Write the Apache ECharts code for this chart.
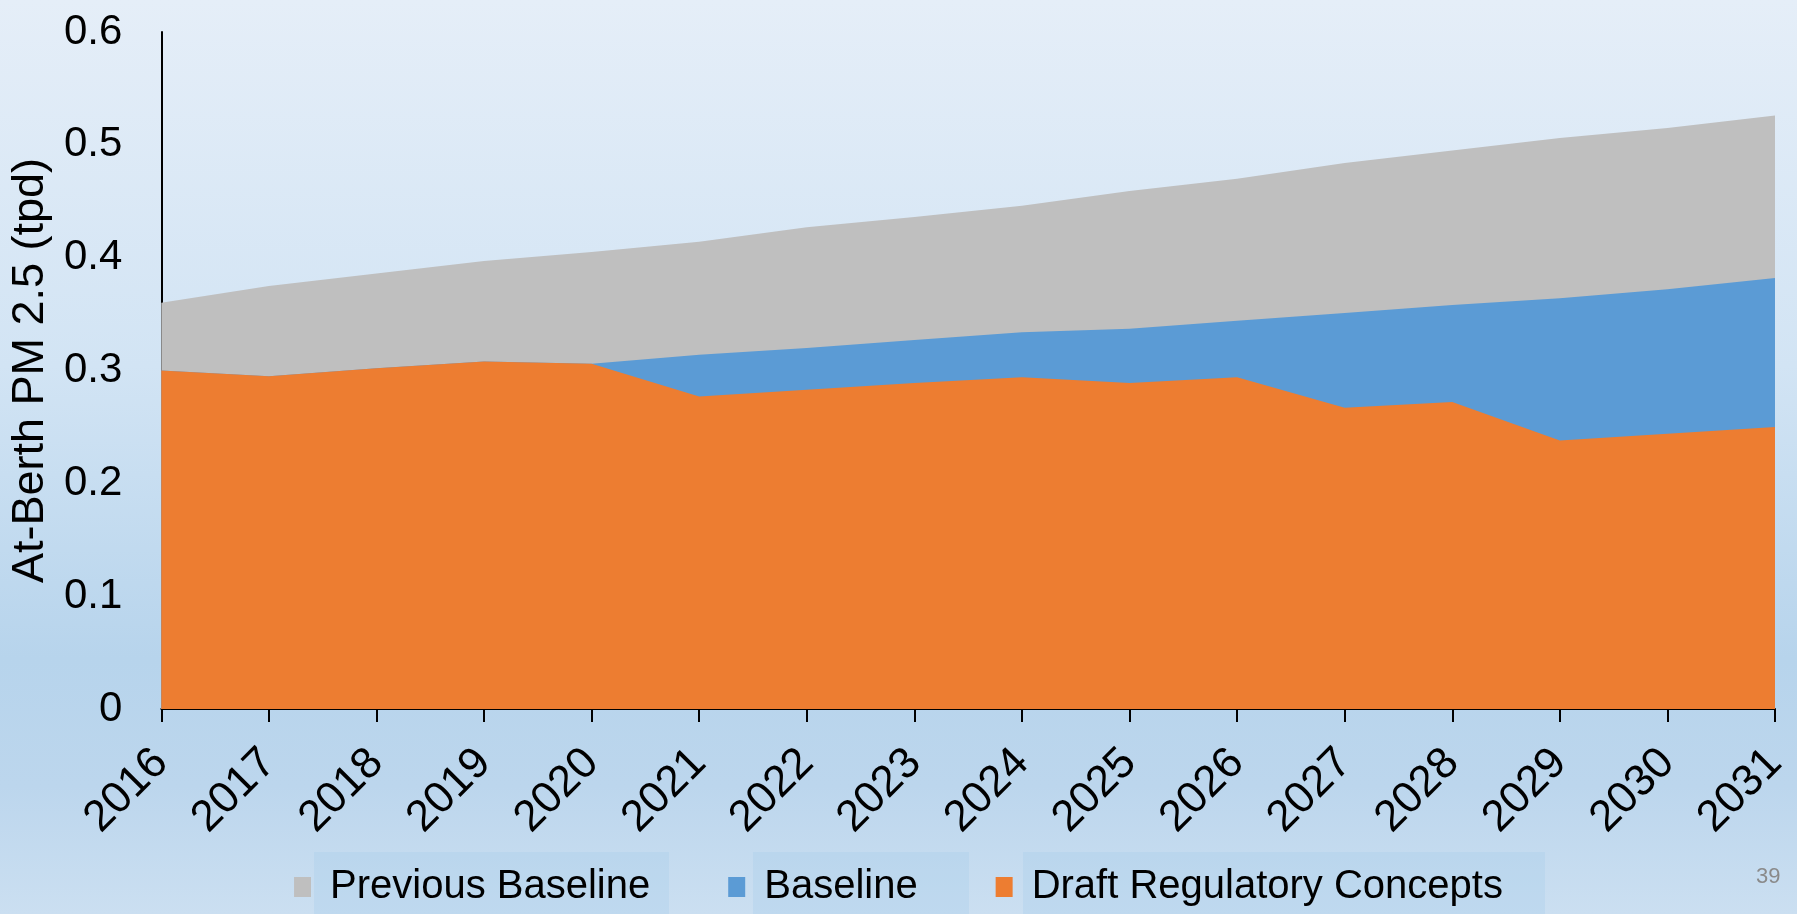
<!DOCTYPE html>
<html>
<head>
<meta charset="utf-8">
<title>At-Berth PM 2.5</title>
<script src="https://cdn.jsdelivr.net/npm/echarts@6/dist/echarts.min.js"></script>
<style>
  html, body { margin: 0; padding: 0; width: 100%; height: 100%; overflow: hidden; }
  #chart { width: 1797px; height: 914px; }
</style>
</head>
<body>
<div id="chart"></div>
<script>
// Years on the category axis
const years = ['2016', '2017', '2018', '2019', '2020', '2021', '2022', '2023',
               '2024', '2025', '2026', '2027', '2028', '2029', '2030', '2031'];

// At-berth PM 2.5 emissions, tons per day
const previousBaseline = [0.360, 0.375, 0.386, 0.397, 0.405, 0.414, 0.427, 0.436,
                          0.446, 0.459, 0.470, 0.484, 0.495, 0.506, 0.515, 0.526];
const baseline         = [0.300, 0.295, 0.302, 0.308, 0.306, 0.314, 0.320, 0.327,
                          0.334, 0.337, 0.344, 0.351, 0.358, 0.364, 0.372, 0.382];
const draftConcepts    = [0.300, 0.295, 0.302, 0.308, 0.306, 0.277, 0.283, 0.289,
                          0.294, 0.289, 0.294, 0.267, 0.272, 0.238, 0.244, 0.250];

const seriesNames = ['Previous Baseline', 'Baseline', 'Draft Regulatory Concepts'];
const yTicks = { min: 0, max: 0.6, step: 0.1 };
const pageNumber = '39';

const FONT = '"Liberation Sans", Arial, sans-serif';

function areaSeries(name, data, color, z) {
  return {
    name: name,
    type: 'line',
    data: data,
    z: z,
    showSymbol: false,
    symbol: 'none',
    silent: true,
    lineStyle: { width: 0, color: color },
    itemStyle: { color: color },
    areaStyle: { color: color, opacity: 1 }
  };
}

const chart = echarts.init(document.getElementById('chart'), null, { renderer: 'canvas' });

chart.setOption({
  animation: false,
  backgroundColor: {
    type: 'linear', x: 0, y: 0, x2: 0, y2: 1,
    colorStops: [
      { offset: 0.00, color: '#e5eef8' },
      { offset: 0.40, color: '#d2e4f4' },
      { offset: 0.72, color: '#b7d4ec' },
      { offset: 0.86, color: '#bcd6ed' },
      { offset: 1.00, color: '#cbdff1' }
    ]
  },
  grid: { left: 161, right: 22, top: 32, bottom: 205, containLabel: false },
  graphic: [
    { type: 'rect', z: -1, shape: { x: 314, y: 852, width: 355, height: 62 }, style: { fill: 'rgba(170,205,235,0.35)' } },
    { type: 'rect', z: -1, shape: { x: 753, y: 852, width: 216, height: 62 }, style: { fill: 'rgba(170,205,235,0.35)' } },
    { type: 'rect', z: -1, shape: { x: 1023, y: 852, width: 522, height: 62 }, style: { fill: 'rgba(170,205,235,0.35)' } },
    { type: 'text', left: 1756, top: 866, style: { text: pageNumber, font: '22px ' + FONT, fill: '#8a8a8a' } }
  ],
  legend: {
    data: seriesNames,
    left: 'center',
    top: 862,
    icon: 'rect',
    itemWidth: 17,
    itemHeight: 20,
    itemGap: 78,
    selectedMode: false,
    textStyle: {
      fontFamily: FONT,
      fontSize: 40,
      color: '#000',
      padding: [0, 0, 0, 14]
    }
  },
  xAxis: {
    type: 'category',
    data: years,
    boundaryGap: false,
    axisLine: { show: true, lineStyle: { color: '#000', width: 2 } },
    axisTick: { show: true, length: 13, lineStyle: { color: '#000', width: 2 } },
    axisLabel: {
      interval: 0,
      rotate: 45,
      margin: 47,
      fontFamily: FONT,
      fontSize: 44,
      color: '#000'
    },
    splitLine: { show: false }
  },
  yAxis: {
    type: 'value',
    min: yTicks.min,
    max: yTicks.max,
    interval: yTicks.step,
    name: 'At-Berth PM 2.5 (tpd)',
    nameLocation: 'middle',
    nameGap: 104,
    nameTextStyle: { fontFamily: FONT, fontSize: 45, color: '#000' },
    axisLine: { show: true, lineStyle: { color: '#000', width: 2 } },
    axisTick: { show: false },
    axisLabel: {
      margin: 39,
      fontFamily: FONT,
      fontSize: 42,
      color: '#000',
      formatter: function (v) { return String(Math.round(v * 10) / 10); }
    },
    splitLine: { show: false }
  },
  series: [
    areaSeries(seriesNames[0], previousBaseline, '#bfbfbf', 1),
    areaSeries(seriesNames[1], baseline, '#5b9bd5', 2),
    areaSeries(seriesNames[2], draftConcepts, '#ed7d31', 3)
  ]
});
</script>
</body>
</html>
